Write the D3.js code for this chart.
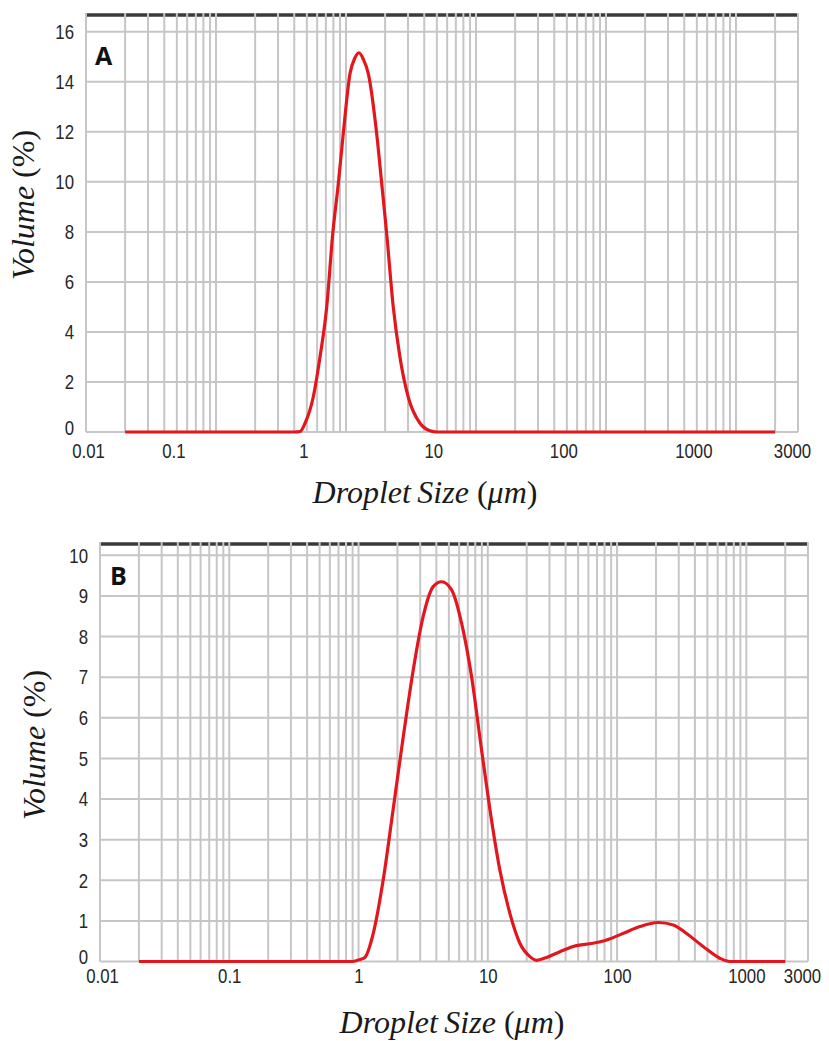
<!DOCTYPE html>
<html>
<head>
<meta charset="utf-8">
<script src="https://cdn.jsdelivr.net/npm/d3@7"></script>
<style>
  body { margin: 0; background: #fff; }
  .tick text { font-family: "Liberation Sans", Arial, sans-serif; font-size: 21px; fill: #262626; }
  .title { font-family: "Liberation Serif", serif; font-size: 32px; fill: #1a1a1a; }
  .letter { font-family: "Open Sans", sans-serif; font-weight: bold; font-size: 25px; fill: #111; }
</style>
</head>
<body>
<svg></svg>
<script>
var width = 829,
  height = 1041;

// panel A : droplet size (um) vs volume (%)
var sizeA = [0.02, 0.40, 0.443, 0.484, 0.56, 0.631, 0.711, 0.791, 0.873, 0.953, 1.074, 1.17, 1.259, 1.36, 1.485, 1.722, 1.883, 2.056, 2.31, 2.60, 3.01, 3.71, 4.43, 5.0, 2000];
var volA = [0, 0, 0.02, 0.35, 1.4, 3.0, 5.0, 7.93, 9.93, 11.93, 14.33, 14.95, 15.16, 14.9, 14.33, 11.93, 9.93, 7.93, 5.0, 3.0, 1.4, 0.35, 0.05, 0, 0];

// panel B
var sizeB = [0.02, 0.9, 1.03, 1.12, 1.30, 1.55, 1.85, 2.22, 2.65, 3.16, 3.78, 4.39, 5.25, 6.27, 7.49, 8.95, 10.4, 12.4, 14.8, 17.7, 21.2, 23.8, 28.5, 36.1, 45.8, 65.3, 83, 111, 150, 208, 272, 345, 463, 624, 745, 2000];
var volB = [0, 0, 0.05, 0.1, 0.69, 2.0, 3.73, 5.54, 7.18, 8.49, 9.23, 9.35, 9.15, 8.33, 7.01, 5.21, 3.73, 2.25, 1.19, 0.45, 0.12, 0.03, 0.1, 0.24, 0.37, 0.45, 0.53, 0.69, 0.86, 0.96, 0.90, 0.69, 0.37, 0.08, 0, 0];

var yTicksA = [0, 2, 4, 6, 8, 10, 12, 14, 16];
var yTicksB = [0, 1, 2, 3, 4, 5, 6, 7, 8, 9, 10];

var xLabels = ["0.01", "0.1", "1", "10", "100", "1000", "3000"];
// in A the decade labels sit left of their gridlines (as in the original figure)
var xLabelAtA = [0.01, 0.047, 0.47, 4.7, 47, 470, 3000];
var xLabelAtB = [0.01, 0.1, 1, 10, 100, 1000, 3000];

var svg = d3.select("svg")
  .attr("width", width)
  .attr("height", height);

drawPanel({
  letter: "A", size: sizeA, vol: volA, yTicks: yTicksA, xLabelAt: xLabelAtA,
  left: 86, right: 798, top: 15, bottom: 432, yMax: 16.67,
  yPad: 12, xPad: 11, letterX: 95, letterY: 65,
  yTitleX: 34, yTitleY: 205, xTitleX: 425, xTitleY: 503
});

drawPanel({
  letter: "B", size: sizeB, vol: volB, yTicks: yTicksB, xLabelAt: xLabelAtB,
  left: 100, right: 808, top: 544, bottom: 961.5, yMax: 10.28,
  yPad: 12, xPad: 7, letterX: 110, letterY: 585,
  yTitleX: 45, yTitleY: 745, xTitleX: 452, xTitleY: 1033
});

// squeeze the tick labels to look like the narrow font of the original
function narrow(sel) {
  sel.selectAll(".tick text").each(function () {
    var w = this.getComputedTextLength();
    d3.select(this)
      .attr("textLength", w * 0.8)
      .attr("lengthAdjust", "spacingAndGlyphs");
  });
}

function drawPanel(p) {
  var x = d3.scaleLog().domain([0.01, 3000]).range([p.left, p.right]);
  var y = d3.scaleLinear().domain([0, p.yMax]).range([p.bottom, p.top]);
  var g = svg.append("g");

  // thick frame line at the top
  g.append("line")
    .attr("x1", p.left).attr("x2", p.right)
    .attr("y1", p.top).attr("y2", p.top)
    .style("stroke", "#3a3a3a").style("stroke-width", 3.5);

  g.append("g").selectAll("line")
    .data(p.yTicks)
    .enter().append("line")
    .attr("x1", p.left).attr("x2", p.right)
    .attr("y1", d => y(d)).attr("y2", d => y(d))
    .style("stroke", "#c6c6c6").style("stroke-width", 2);

  g.append("g").selectAll("line")
    .data(x.ticks())
    .enter().append("line")
    .attr("x1", d => x(d)).attr("x2", d => x(d))
    .attr("y1", p.top - 2).attr("y2", p.bottom)
    .style("stroke", "#c6c6c6").style("stroke-width", 2);

  var yAxis = g.append("g")
    .attr("transform", "translate(" + p.left + ",0)")
    .call(d3.axisLeft(y).tickValues(p.yTicks).tickSize(0).tickPadding(p.yPad));
  yAxis.select(".domain").remove();
  narrow(yAxis);
  // the zero label rides a little above the baseline
  yAxis.selectAll(".tick text").filter(d => d == 0).attr("dy", "0.1em");

  var xAxis = g.append("g")
    .attr("transform", "translate(0," + p.bottom + ")")
    .call(d3.axisBottom(x).tickValues(p.xLabelAt).tickSize(0).tickPadding(p.xPad)
      .tickFormat((d, i) => xLabels[i]));
  xAxis.select(".domain").remove();
  narrow(xAxis);
  // end labels sit just inside the frame
  xAxis.selectAll(".tick text")
    .attr("dx", (d, i) => i == xLabels.length - 1 ? -6 : (i == 0 ? 2 : 0));

  var line = d3.line()
    .x(d => x(d[0]))
    .y(d => y(d[1]))
    .curve(d3.curveMonotoneX);

  g.append("path")
    .datum(d3.zip(p.size, p.vol))
    .attr("d", line)
    .style("fill", "none")
    .style("stroke", "#e3161e")
    .style("stroke-width", 3.2)
    .style("stroke-linejoin", "round");

  g.append("text")
    .attr("class", "letter")
    .attr("x", p.letterX).attr("y", p.letterY)
    .text(p.letter);

  var yt = g.append("text")
    .attr("class", "title")
    .attr("text-anchor", "middle")
    .attr("transform", "translate(" + p.yTitleX + "," + p.yTitleY + ") rotate(-90)");
  yt.append("tspan").style("font-style", "italic").text("Volume ");
  yt.append("tspan").text("(%)");

  var xt = g.append("text")
    .attr("class", "title")
    .attr("text-anchor", "middle")
    .attr("x", p.xTitleX).attr("y", p.xTitleY);
  xt.append("tspan").style("font-style", "italic").text("Droplet\u2009Size ");
  xt.append("tspan").text("(");
  xt.append("tspan").style("font-style", "italic").text("\u03bcm");
  xt.append("tspan").text(")");
}
</script>
</body>
</html>
